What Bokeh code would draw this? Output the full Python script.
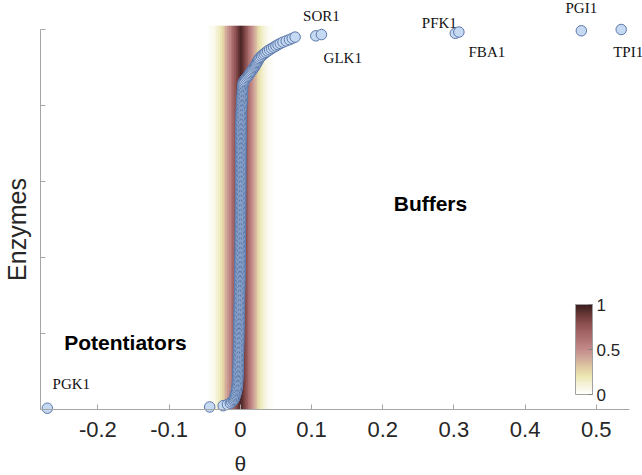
import numpy as np
from bokeh.plotting import figure
from bokeh.models import (Range1d, FixedTicker, NumeralTickFormatter, LinearColorMapper,
                          ColorBar, Label, LabelSet, ColumnDataSource)
from bokeh.core.properties import value
from bokeh.embed import file_html
from bokeh.resources import INLINE

# ---------------- data ----------------
# theta of every enzyme, sorted (rank 1 = lowest)
theta = [
    -0.271, -0.043, -0.024, -0.018, -0.014, -0.012, -0.010, -0.009, -0.0082, -0.0075,
    -0.0070, -0.0065, -0.0060, -0.0056, -0.0052, -0.0049, -0.0046, -0.0044, -0.0042, -0.0040,
    -0.0039, -0.0038, -0.0037, -0.0036, -0.0035, -0.0034, -0.0033, -0.0033, -0.0032, -0.0032,
    -0.0031, -0.0031, -0.0030, -0.0030, -0.0029, -0.0029, -0.0028, -0.0028, -0.0028, -0.0027,
    -0.0027, -0.0027, -0.0026, -0.0026, -0.0026, -0.0025, -0.0025, -0.0025, -0.0024, -0.0024,
    -0.0024, -0.0023, -0.0023, -0.0023, -0.0022, -0.0022, -0.0022, -0.0021, -0.0021, -0.0021,
    -0.0020, -0.0020, -0.0020, -0.0019, -0.0019, -0.0019, -0.0018, -0.0018, -0.0018, -0.0017,
    -0.0017, -0.0017, -0.0016, -0.0016, -0.0016, -0.0015, -0.0015, -0.0015, -0.0014, -0.0014,
    -0.0014, -0.0013, -0.0013, -0.0013, -0.0012, -0.0012, -0.0012, -0.0011, -0.0011, -0.0011,
    -0.0010, -0.0010, -0.0010, -0.0009, -0.0009, -0.0009, -0.0008, -0.0008, -0.0008, -0.0007,
    -0.0007, -0.0007, -0.0006, -0.0006, -0.0006, -0.0005, -0.0005, -0.0005, -0.0004, -0.0004,
    -0.0004, -0.0004, -0.0003, -0.0003, -0.0003, -0.0003, -0.0002, -0.0002, -0.0002, -0.0002,
    -0.0001, -0.0001, -0.0001, -0.0001, 0.0000, 0.0000, 0.0000, 0.0000, 0.0000, 0.0000,
    0.0000, 0.0000, 0.0000, 0.0000, 0.0001, 0.0001, 0.0001, 0.0001, 0.0001, 0.0001,
    0.0001, 0.0001, 0.0001, 0.0001, 0.0002, 0.0002, 0.0002, 0.0002, 0.0002, 0.0002,
    0.0002, 0.0002, 0.0003, 0.0003, 0.0003, 0.0003, 0.0003, 0.0003, 0.0003, 0.0003,
    0.0003, 0.0003, 0.0004, 0.0004, 0.0004, 0.0004, 0.0004, 0.0004, 0.0004, 0.0004,
    0.0004, 0.0005, 0.0005, 0.0005, 0.0005, 0.0005, 0.0005, 0.0005, 0.0005, 0.0005,
    0.0005, 0.0005, 0.0005, 0.0006, 0.0006, 0.0006, 0.0006, 0.0006, 0.0006, 0.0006,
    0.0006, 0.0007, 0.0007, 0.0007, 0.0007, 0.0007, 0.0007, 0.0007, 0.0007, 0.0007,
    0.0007, 0.0008, 0.0008, 0.0008, 0.0008, 0.0008, 0.0008, 0.0008, 0.0008, 0.0008,
    0.0008, 0.0009, 0.0009, 0.0009, 0.0009, 0.0009, 0.0009, 0.0010, 0.0010, 0.0010,
    0.0010, 0.0010, 0.0010, 0.0010, 0.0011, 0.0011, 0.0011, 0.0012, 0.0012, 0.0012,
    0.0013, 0.0013, 0.0014, 0.0014, 0.0015, 0.0015, 0.0016, 0.0017, 0.0018, 0.0019,
    0.0020, 0.0021, 0.0022, 0.0023, 0.0024, 0.0025, 0.0026, 0.0027, 0.0028, 0.0029,
    0.0030, 0.0030, 0.0031, 0.0032, 0.0033, 0.0035, 0.0038, 0.0042, 0.0050, 0.0060,
    0.0075, 0.0090, 0.0105, 0.0118, 0.0130, 0.0142, 0.0155, 0.0168, 0.0180, 0.0195,
    0.0205, 0.0215, 0.0225, 0.0235, 0.0245, 0.0255, 0.0265, 0.0280, 0.0298, 0.0318,
    0.0338, 0.0360, 0.0385, 0.0412, 0.0440, 0.0470, 0.0500, 0.0530, 0.0562, 0.0600,
    0.0645, 0.0690, 0.0730, 0.0770, 0.106, 0.114, 0.302, 0.307, 0.479, 0.535,
]
rank = list(range(1, len(theta) + 1))

# labelled enzymes and their rank
enzyme_names = ["PGK1", "GLK1", "SOR1", "PFK1", "FBA1", "PGI1", "TPI1"]
enzyme_ranks = [1, 295, 296, 297, 298, 299, 300]

# density band (null distribution) across theta
band_theta = [
    -0.05, -0.0475, -0.045, -0.0425, -0.04, -0.0375, -0.035, -0.0325, -0.03, -0.0275,
    -0.025, -0.0225, -0.02, -0.0175, -0.015, -0.0125, -0.01, -0.0075, -0.005, -0.0025,
    0.0, 0.0025, 0.005, 0.0075, 0.01, 0.0125, 0.015, 0.0175, 0.02, 0.0225,
    0.025, 0.0275, 0.03, 0.0325, 0.035, 0.0375, 0.04, 0.0425, 0.045, 0.0475, 0.05,
]
band_density = [
    0.00, 0.00, 0.01, 0.02, 0.04, 0.06, 0.09, 0.12, 0.16, 0.21,
    0.27, 0.33, 0.40, 0.47, 0.54, 0.61, 0.68, 0.76, 0.84, 0.92,
    0.97, 0.92, 0.84, 0.76, 0.68, 0.60, 0.52, 0.44, 0.37, 0.30,
    0.24, 0.19, 0.14, 0.10, 0.07, 0.05, 0.03, 0.02, 0.01, 0.00, 0.00,
]

x_ticks = [-0.2, -0.1, 0.0, 0.1, 0.2, 0.3, 0.4, 0.5]
y_ticks = [0, 60, 120, 180, 240, 300]
cbar_ticks = [0, 0.5, 1]

# ---------------- styles / layout ----------------
label_dx = [24, 27, 0, -16, 28, 0, 7]
label_dy = [24, -22, 19, 10, -20, 23, -22]
band_top = 303
axis_x_lo, axis_x_hi = -0.2806, 0.547
x_lo, x_hi = -0.3368, 0.5649
y_lo, y_hi = -52.1, 322.9

anchors = ["#ffffff", "#f6f4dc", "#ece7b4", "#e0cba2", "#d2a99a", "#c38c8a",
           "#b27575", "#a06262", "#884d4d", "#653535", "#3a1c1c"]
rgb = np.array([[int(h[i:i + 2], 16) for i in (1, 3, 5)] for h in anchors], float)
apos = np.linspace(0, 1, len(anchors))
palette = ["#%02x%02x%02x" % tuple(int(round(np.interp(g, apos, rgb[:, c]))) for c in range(3))
           for g in np.linspace(0, 1, 256)]
mapper = LinearColorMapper(palette=palette, low=0, high=1)

p = figure(width=642, height=475, output_backend="svg", toolbar_location=None,
           x_range=Range1d(x_lo, x_hi), y_range=Range1d(y_lo, y_hi),
           min_border=0, min_border_left=0, min_border_right=0,
           min_border_top=0, min_border_bottom=0)
p.outline_line_color = None
p.xgrid.visible = False
p.ygrid.visible = False

step = band_theta[1] - band_theta[0]
p.image(image=[np.array([band_density], dtype=float)], x=band_theta[0] - step / 2, y=0,
        dw=band_theta[-1] - band_theta[0] + step, dh=band_top, color_mapper=mapper)

p.scatter(x=theta, y=rank, size=10.5, fill_color="#c6d9f2", line_color="#5b78aa",
          line_width=1)

src = ColumnDataSource(dict(x=[theta[r - 1] for r in enzyme_ranks], y=enzyme_ranks,
                            text=enzyme_names, dx=label_dx, dy=label_dy))
p.add_layout(LabelSet(x="x", y="y", text="text", x_offset="dx", y_offset="dy", source=src,
                      text_align="center", text_baseline="middle",
                      text_font=value("Liberation Serif"), text_font_size="15px",
                      text_color="#111111"))

axis_col = "#a6a6a6"
xa = p.xaxis[0]
xa.fixed_location = 0
xa.bounds = (axis_x_lo, axis_x_hi)
xa.ticker = FixedTicker(ticks=x_ticks)
xa.formatter = NumeralTickFormatter(format="0.[0]")
xa.major_tick_in = 5
xa.major_tick_out = 0
xa.minor_tick_in = 0
xa.minor_tick_out = 0
xa.axis_line_color = axis_col
xa.major_tick_line_color = axis_col
xa.major_label_text_font = "Liberation Sans"
xa.major_label_text_font_size = "22px"
xa.major_label_text_color = "#262626"
xa.major_label_standoff = 12

ya = p.yaxis[0]
ya.fixed_location = axis_x_lo
ya.ticker = FixedTicker(ticks=y_ticks)
ya.bounds = (0, 300)
ya.major_label_overrides = {t: "" for t in y_ticks}
ya.major_tick_in = 5
ya.major_tick_out = 0
ya.minor_tick_in = 0
ya.minor_tick_out = 0
ya.axis_line_color = axis_col
ya.major_tick_line_color = axis_col

p.add_layout(Label(x=0, y=-42.6, text="θ", text_align="center", text_baseline="middle",
                   text_font="Liberation Sans", text_font_size="21px",
                   text_color="#262626"))
p.add_layout(Label(x=-0.3143, y=142.1, text="Enzymes", angle=np.pi / 2, text_align="center",
                   text_baseline="middle", text_font="Liberation Sans",
                   text_font_size="25px", text_color="#262626"))
p.add_layout(Label(x=0.2671, y=162.6, text="Buffers", text_align="center",
                   text_baseline="middle", text_font="Liberation Sans",
                   text_font_size="21px", text_font_style="bold", text_color="#000000"))
p.add_layout(Label(x=-0.1612, y=52.9, text="Potentiators", text_align="center",
                   text_baseline="middle", text_font="Liberation Sans",
                   text_font_size="21px", text_font_style="bold", text_color="#000000"))

cb = ColorBar(color_mapper=mapper, ticker=FixedTicker(ticks=cbar_ticks),
              formatter=NumeralTickFormatter(format="0.[0]"),
              location=(575, 81), width=17, height=90, padding=0,
              background_fill_color=None, border_line_color=None,
              bar_line_color="#a0a0a0", major_tick_line_color="#808080",
              major_tick_in=4, major_tick_out=0, minor_tick_line_color=None,
              label_standoff=4, major_label_text_font="Liberation Sans",
              major_label_text_font_size="17px", major_label_text_color="#262626")
p.add_layout(cb, "center")

open("out.html", "w").write(file_html(p, INLINE))
